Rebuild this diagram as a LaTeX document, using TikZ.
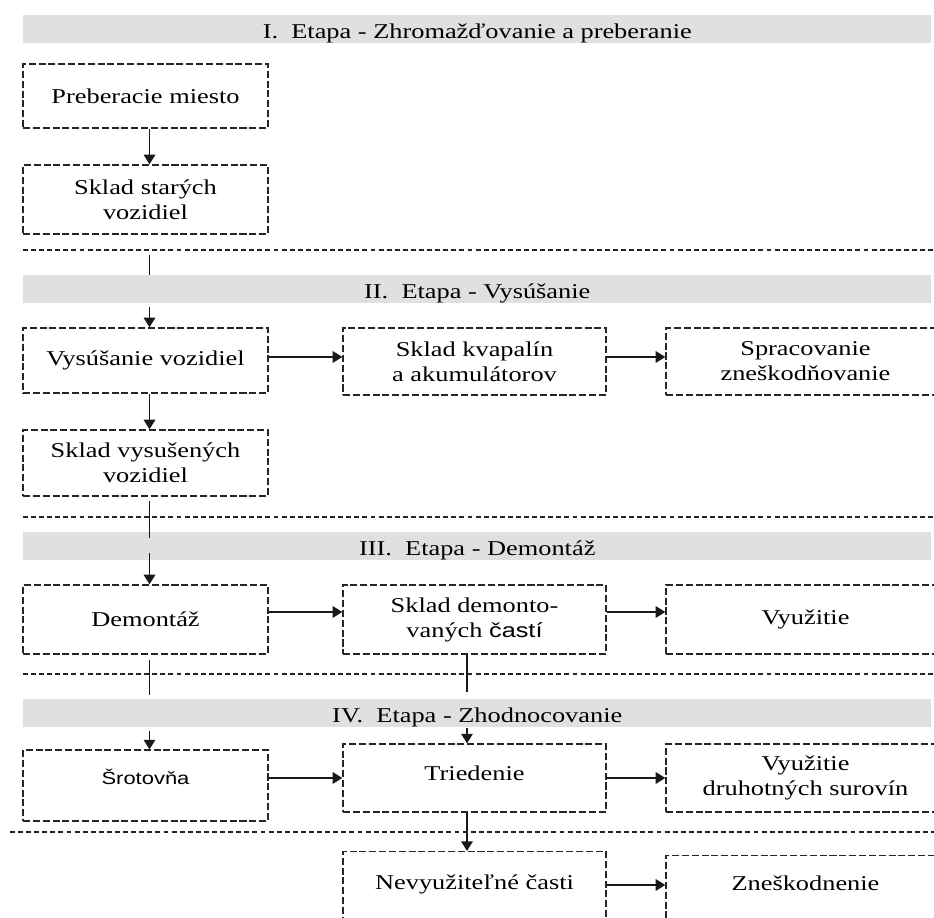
\documentclass[tikz,border=0pt]{standalone}
\usepackage{fontspec}
\setmainfont[FakeStretch=1.25]{Liberation Serif}
\newfontfamily\arialfont[FakeStretch=1.25]{Liberation Sans}
\usetikzlibrary{arrows.meta}

\tikzstyle{stage}=[fill=black!12, minimum width=18.16cm, minimum height=0.56cm, inner sep=0pt, text height=13.1pt, text depth=2.85pt, anchor=north west, font=\fontsize{12}{14}\selectfont]
\tikzstyle{box}=[draw=black!85, line width=0.75pt, dash pattern=on 4pt off 1.6pt, align=center, inner sep=0pt, font=\fontsize{12}{14.2}\selectfont]
\tikzstyle{box-a}=[box, minimum width=4.9cm]
\tikzstyle{box-b}=[box, minimum width=5.26cm]
\tikzstyle{box-c}=[box, minimum width=5.58cm]
\tikzstyle{divider}=[draw=black!85, line width=0.7pt, dash pattern=on 2.8pt off 1.8pt]
\tikzstyle{flow}=[draw=black!90, line width=1.1pt, -{Triangle[length=5.5pt,width=6.5pt]}]
\tikzstyle{link}=[draw=black!90, line width=0.8pt, -]

\begin{document}
\begin{tikzpicture}[x=0.02cm, y=-0.02cm]
  \clip (0,0) rectangle (934,918);
  % gray stage bands
  \foreach \y/\name/\title in {15/st1/{I.\ \ Etapa - Zhromažďovanie a preberanie}, 275/st2/{II.\ \ Etapa - Vysúšanie}, 532/st3/{III.\ \ Etapa - Demontáž}, 699/st4/{IV.\ \ Etapa - Zhodnocovanie}}
    \node[stage] (\name) at (23,\y) {\title};

  % borders between the stages
  \foreach \x/\y in {23/250, 23/517, 23/674, 10/832}
    \draw[divider] (\x,\y) -- (934,\y);

  % stage I
  \node[box-a, minimum height=1.28cm] (pm) at (145.5,96) {Preberacie miesto};
  \node[box-a, minimum height=1.38cm] (stary) at (145.5,199.5) {Sklad starých\\vozidiel};

  % stage II
  \node[box-a, minimum height=1.3cm] (vysus) at (145.5,360.5) {Vysúšanie vozidiel};
  \node[box-b, minimum height=1.34cm] (kvap) at (474.5,361.5) {Sklad kvapalín\\a akumulátorov};
  \node[box-c, minimum height=1.34cm] (sprac) at (805.5,361.5) {Spracovanie\\zneškodňovanie};
  \node[box-a, minimum height=1.32cm] (vysusene) at (145.5,463) {Sklad vysušených\\vozidiel};

  % stage III
  \node[box-a, minimum height=1.38cm] (demont) at (145.5,619.5) {Demontáž};
  \node[box-b, minimum height=1.38cm] (skladdem) at (474.5,619.5) {Sklad demonto-\\vaných {\arialfont\fontsize{11.5}{14.2}\selectfont častí}};
  \node[box-c, minimum height=1.38cm] (vyuz) at (805.5,619.5) {Využitie};

  % stage IV
  \node[box-a, text height=19.3pt, text depth=21pt] (srot) at (145.5,785.5) {\arialfont\fontsize{10}{12}\selectfont Šrotovňa};
  \node[box-b, text height=21pt, text depth=17.6pt] (tried) at (474.5,778) {Triedenie};
  \node[box-c, minimum height=1.36cm] (druh) at (805.5,778) {Využitie\\druhotných surovín};
  \node[box-b, anchor=north, text height=21.6pt, text depth=34pt] (nevyuz) at (474.5,851) {Nevyužiteľné časti};
  \node[box-c, anchor=north, text height=19.9pt, text depth=34pt] (zneskod) at (805.5,855) {Zneškodnenie};

  % columns and rows of the connectors
  \coordinate (col1) at (149.5,0);
  \coordinate (col2) at (467,0);
  \coordinate (row2) at (0,357);
  \coordinate (row3) at (0,612);
  \coordinate (row4) at (0,778);
  \coordinate (row5) at (0,885);

  % going down
  \draw[flow] (col1 |- pm.south) -- (col1 |- stary.north);
  \draw[link] (col1 |- stary.south) ++(0,20) -- (col1 |- st2.north);
  \draw[flow] (col1 |- st2.south) ++(0,3) -- (col1 |- vysus.north);
  \draw[flow] (col1 |- vysus.south) -- (col1 |- vysusene.north);
  \draw[link] (col1 |- vysusene.south) ++(0,4) -- ++(0,37);
  \draw[flow] (col1 |- st3.south) ++(0,-8) -- (col1 |- demont.north);
  \draw[link] (col1 |- demont.south) ++(0,5) -- ++(0,35);
  \draw[flow] (col1 |- st4.south) ++(0,3) -- (col1 |- srot.north);
  \draw[link] (col2 |- skladdem.south) -- ++(0,37);
  \draw[flow] (col2 |- st4.south) -- (col2 |- tried.north);
  \draw[flow] (col2 |- tried.south) -- (col2 |- nevyuz.north);

  % going right
  \foreach \a/\b/\r in {vysus/kvap/row2, kvap/sprac/row2, demont/skladdem/row3, skladdem/vyuz/row3, srot/tried/row4, tried/druh/row4, nevyuz/zneskod/row5}
    \draw[flow] (\a.east |- \r) -- (\b.west |- \r);
\end{tikzpicture}
\end{document}
